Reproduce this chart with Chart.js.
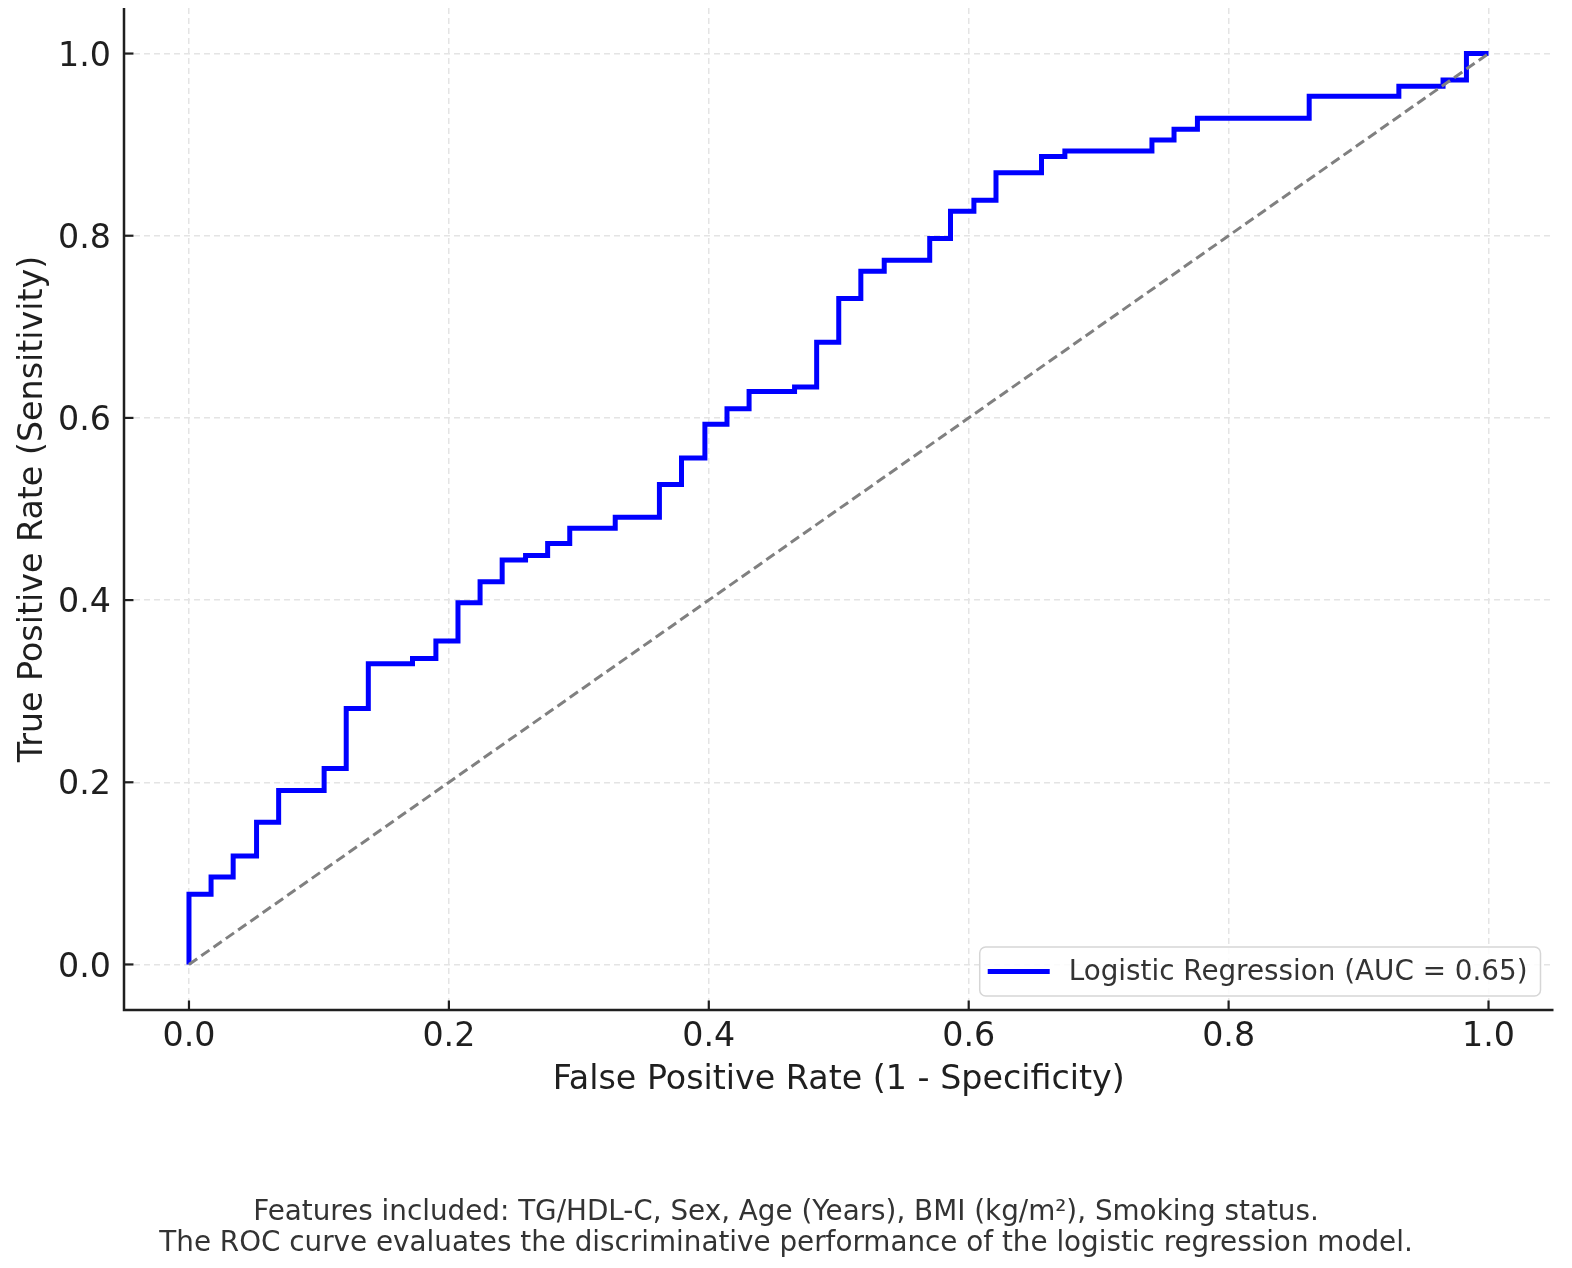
<!DOCTYPE html>
<html>
<head>
<meta charset="utf-8">
<script src="https://cdn.jsdelivr.net/npm/chart.js@4.4.1/dist/chart.umd.min.js"></script>
<style>
  html, body { margin: 0; padding: 0; background: #ffffff; }
  #wrap { width: 1572px; height: 1268px; position: relative; }
  canvas { display: block; }
</style>
</head>
<body>
<div id="wrap"><canvas id="roc" width="1572" height="1268" style="width:1572px;height:1268px"></canvas></div>
<script>
// ROC curve corner points, drawn as a step-before line
const fpr = [0.000, 0.000, 0.017, 0.034, 0.052, 0.069, 0.104, 0.121, 0.138, 0.172,
             0.190, 0.207, 0.224, 0.241, 0.259, 0.276, 0.293, 0.328, 0.362, 0.379,
             0.397, 0.414, 0.431, 0.466, 0.483, 0.500, 0.517, 0.535, 0.570, 0.586,
             0.604, 0.621, 0.656, 0.674, 0.741, 0.758, 0.776, 0.862, 0.931, 0.965,
             0.983, 1.000];
const tpr = [0.000, 0.077, 0.096, 0.119, 0.156, 0.191, 0.215, 0.281, 0.330, 0.336,
             0.355, 0.397, 0.420, 0.444, 0.449, 0.462, 0.479, 0.491, 0.527, 0.556,
             0.593, 0.610, 0.629, 0.634, 0.683, 0.731, 0.761, 0.773, 0.797, 0.827,
             0.839, 0.869, 0.887, 0.893, 0.905, 0.917, 0.929, 0.953, 0.964, 0.971,
             1.000, 1.000];
// chance diagonal
const chanceX = [0, 1];
const chanceY = [0, 1];

const xTicks = [0.0, 0.2, 0.4, 0.6, 0.8, 1.0];
const yTicks = [0.0, 0.2, 0.4, 0.6, 0.8, 1.0];
const xRange = [-0.05, 1.05];
const yRange = [-0.05, 1.05];

const seriesLabel = 'Logistic Regression (AUC = 0.65)';
const xTitle = 'False Positive Rate (1 - Specificity)';
const yTitle = 'True Positive Rate (Sensitivity)';
const captionLines = [
  'Features included: TG/HDL-C, Sex, Age (Years), BMI (kg/m²), Smoking status.',
  'The ROC curve evaluates the discriminative performance of the logistic regression model.'
];

const FONT = '"DejaVu Sans", "Liberation Sans", sans-serif';
const AXIS_FONT = 33.3;
const SMALL_FONT = 27.8;

const rocData = fpr.map((x, i) => ({ x: x, y: tpr[i] }));
const chanceData = chanceX.map((x, i) => ({ x: x, y: chanceY[i] }));

// spines + inward tick marks (matplotlib style)
const spinePlugin = {
  id: 'spines',
  afterDraw(chart) {
    const { ctx, chartArea: a, scales } = chart;
    ctx.save();
    ctx.strokeStyle = '#1f1f1f';
    ctx.lineWidth = 2.5;
    ctx.lineCap = 'butt';
    ctx.beginPath();
    ctx.moveTo(a.left, a.top);
    ctx.lineTo(a.left, a.bottom);
    ctx.lineTo(a.right, a.bottom);
    ctx.stroke();
    ctx.lineWidth = 2.2;
    const tl = 9.5;
    scales.x.ticks.forEach(t => {
      const px = scales.x.getPixelForValue(t.value);
      ctx.beginPath();
      ctx.moveTo(px, a.bottom);
      ctx.lineTo(px, a.bottom - tl);
      ctx.stroke();
    });
    scales.y.ticks.forEach(t => {
      const py = scales.y.getPixelForValue(t.value);
      ctx.beginPath();
      ctx.moveTo(a.left, py);
      ctx.lineTo(a.left + tl, py);
      ctx.stroke();
    });
    ctx.restore();
  }
};

// legend drawn inside the axes at lower right
const innerLegend = {
  id: 'innerLegend',
  afterDraw(chart) {
    const { ctx, chartArea: a } = chart;
    const ds = chart.data.datasets.find(d => d.label === seriesLabel);
    if (!ds) return;
    ctx.save();
    ctx.font = SMALL_FONT + 'px ' + FONT;
    const tw = ctx.measureText(ds.label).width;
    const padL = 8, sample = 62, gap = 19, padR = 13, h = 49;
    const w = padL + sample + gap + tw + padR;
    const right = a.right - 13, bottom = a.bottom - 14;
    const left = right - w, top = bottom - h;
    const r = 6;
    ctx.beginPath();
    ctx.moveTo(left + r, top);
    ctx.lineTo(right - r, top);
    ctx.arcTo(right, top, right, top + r, r);
    ctx.lineTo(right, bottom - r);
    ctx.arcTo(right, bottom, right - r, bottom, r);
    ctx.lineTo(left + r, bottom);
    ctx.arcTo(left, bottom, left, bottom - r, r);
    ctx.lineTo(left, top + r);
    ctx.arcTo(left, top, left + r, top, r);
    ctx.closePath();
    ctx.fillStyle = 'rgba(255,255,255,0.85)';
    ctx.fill();
    ctx.strokeStyle = '#d6d6d6';
    ctx.lineWidth = 1.5;
    ctx.stroke();
    const cy = top + h / 2;
    ctx.strokeStyle = ds.borderColor;
    ctx.lineWidth = ds.borderWidth;
    ctx.beginPath();
    ctx.moveTo(left + padL, cy);
    ctx.lineTo(left + padL + sample, cy);
    ctx.stroke();
    ctx.fillStyle = '#333333';
    ctx.textBaseline = 'middle';
    ctx.textAlign = 'left';
    ctx.fillText(ds.label, left + padL + sample + gap, cy + 1);
    ctx.restore();
  }
};

new Chart(document.getElementById('roc'), {
  type: 'scatter',
  data: {
    datasets: [
      {
        label: seriesLabel,
        data: rocData,
        showLine: true,
        stepped: 'before',
        borderColor: '#0000ff',
        backgroundColor: '#0000ff',
        borderWidth: 5,
        borderJoinStyle: 'miter',
        borderCapStyle: 'butt',
        pointRadius: 0,
        pointHoverRadius: 0,
        fill: false,
        order: 1
      },
      {
        label: 'Chance',
        data: chanceData,
        showLine: true,
        borderColor: '#808080',
        backgroundColor: '#808080',
        borderWidth: 3,
        borderDash: [10, 5],
        pointRadius: 0,
        pointHoverRadius: 0,
        fill: false,
        order: 0
      }
    ]
  },
  options: {
    responsive: false,
    animation: false,
    devicePixelRatio: 1,
    layout: { padding: { top: 8, right: 0, left: 0, bottom: 0 } },
    plugins: {
      legend: { display: false },
      tooltip: { enabled: false },
      title: {
        display: true,
        position: 'bottom',
        text: captionLines,
        color: '#333333',
        font: { family: FONT, size: SMALL_FONT, weight: 'normal', lineHeight: 31 / SMALL_FONT },
        padding: { top: 87, bottom: 9 }
      }
    },
    scales: {
      x: {
        type: 'linear',
        min: xRange[0],
        max: xRange[1],
        afterBuildTicks: s => { s.ticks = xTicks.map(v => ({ value: v })); },
        afterFit: s => { s.height = 100; s.paddingLeft = 0; s.paddingRight = 18.5; },
        ticks: {
          callback: v => Number(v).toFixed(1),
          color: '#1f1f1f',
          font: { family: FONT, size: AXIS_FONT },
          padding: 7,
          maxRotation: 0,
          autoSkip: false
        },
        grid: { color: '#e4e4e4', lineWidth: 1.5, drawTicks: false },
        border: { display: false, dash: [6, 4] },
        title: {
          display: true,
          text: xTitle,
          color: '#1f1f1f',
          font: { family: FONT, size: AXIS_FONT },
          padding: { top: 0, bottom: 9.5 }
        }
      },
      y: {
        type: 'linear',
        min: yRange[0],
        max: yRange[1],
        afterBuildTicks: s => { s.ticks = yTicks.map(v => ({ value: v })); },
        afterFit: s => { s.width = 124; s.paddingTop = 0; s.paddingBottom = 0; },
        ticks: {
          callback: v => Number(v).toFixed(1),
          color: '#1f1f1f',
          font: { family: FONT, size: AXIS_FONT },
          padding: 13,
          labelOffset: 3.5,
          autoSkip: false
        },
        grid: { color: '#e4e4e4', lineWidth: 1.5, drawTicks: false },
        border: { display: false, dash: [6, 4] },
        title: {
          display: true,
          text: yTitle,
          color: '#1f1f1f',
          font: { family: FONT, size: AXIS_FONT },
          padding: { top: 13, bottom: 0 }
        }
      }
    }
  },
  plugins: [spinePlugin, innerLegend]
});
</script>
</body>
</html>
